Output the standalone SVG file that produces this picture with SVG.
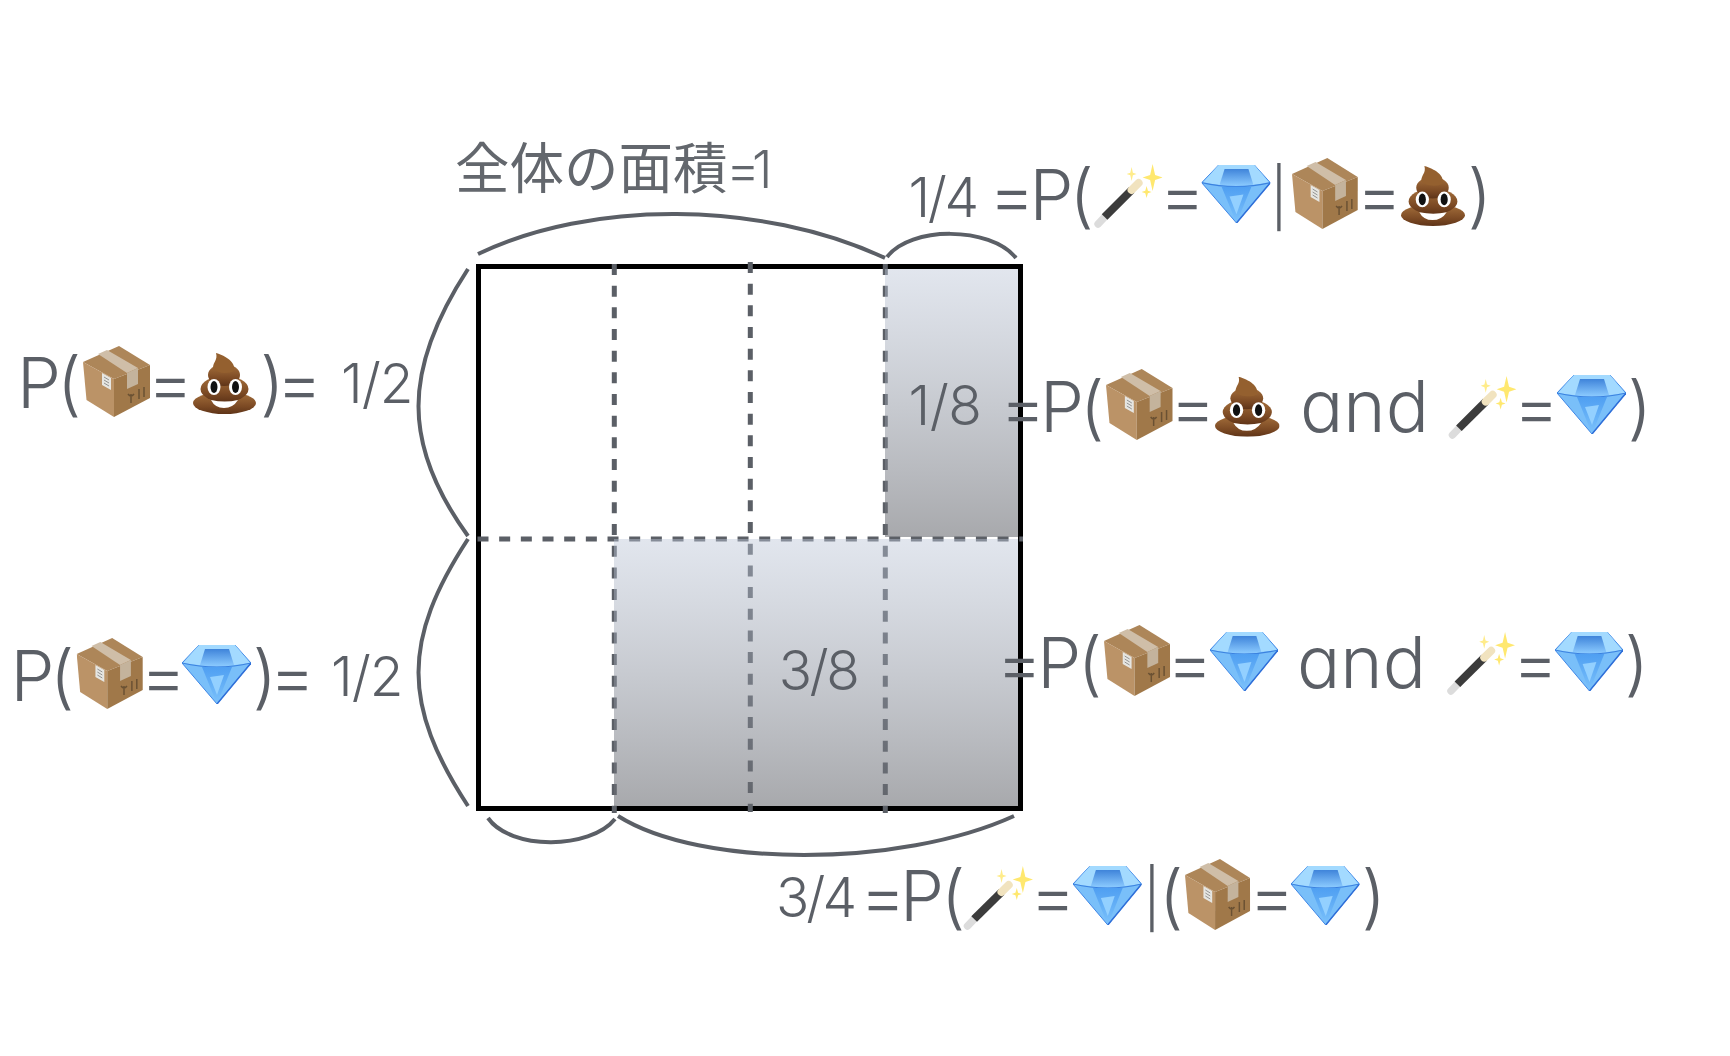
<svg xmlns="http://www.w3.org/2000/svg" width="1730" height="1056" viewBox="0 0 1730 1056">
<style>
text{fill:#5b5f66;font-family:"Inter","Noto Sans",sans-serif;font-weight:300}
.m{font-size:70px}
.f{font-size:55px}
.a{font-size:72px;font-feature-settings:"cv11" 1}
.h{font-size:54.5px;font-weight:400;fill:#63676d;font-family:"Noto Sans CJK JP","Noto Sans",sans-serif}
.e{font-family:"Inter","Noto Sans",sans-serif;font-weight:300;font-size:52px}
.d{stroke:#5b5f66;stroke-width:5;stroke-dasharray:11 10.67;fill:none}
.b{stroke:#5b5f66;stroke-width:4;fill:none}
</style>
<defs>
<linearGradient id="sh" x1="0" y1="0" x2="0" y2="1">
<stop offset="0" stop-color="#bcc6d8" stop-opacity=".44"/>
<stop offset="1" stop-color="#66686e" stop-opacity=".57"/>
</linearGradient>
<linearGradient id="gc" x1="0" y1="0" x2="0" y2="1"><stop offset="0" stop-color="#3f84da"/><stop offset="1" stop-color="#8ccbff"/></linearGradient>
<linearGradient id="gl" x1="0" y1="0" x2="0" y2="1"><stop offset="0" stop-color="#4f9ff2"/><stop offset="1" stop-color="#7cc2fb"/></linearGradient>
<linearGradient id="pp" x1="0" y1="0" x2="0" y2="1"><stop offset="0" stop-color="#a5703c"/><stop offset=".65" stop-color="#7c4a24"/><stop offset="1" stop-color="#5f3418"/></linearGradient>
<symbol id="box" viewBox="0 0 68 71" preserveAspectRatio="none">
<path d="M36 0L67 19L31 33L0 16Z" fill="#ad8659"/>
<path d="M0 16L31 33V71L3.500 54Z" fill="#bb9367"/>
<path d="M31 33L67 19V52L31 71Z" fill="#a07849"/>
<path d="M15 8L24 4L55 22L44 27Z" fill="#cfbea8"/>
<path d="M44 27L55 22V38L44 43Z" fill="#c4b39c"/>
<path d="M19 27L28 32V44L19 39Z" fill="#e6e6e2"/>
<path d="M21 31L26 34M21 34L26 37M21 37L26 40" stroke="#888" stroke-width=".9"/>
<path d="M48 48V57M45 48Q48 52 51 48M56 43V53M61 41V51" stroke="#6a5133" stroke-width="1.500" fill="none"/>
</symbol>
<symbol id="poop" viewBox="0 0 63 61" preserveAspectRatio="none">
<ellipse cx="31.500" cy="50" rx="31.500" ry="11" fill="url(#pp)"/>
<ellipse cx="31.500" cy="36" rx="24" ry="13" fill="url(#pp)"/>
<ellipse cx="31" cy="22" rx="16" ry="11" fill="url(#pp)"/>
<path d="M23 0C33 3 43 9 41 18C36 21 24 21 20 15C20 9 25 7 23 0Z" fill="#94602f"/>
<ellipse cx="21" cy="34" rx="6.500" ry="8" fill="#fff"/><ellipse cx="42.500" cy="34" rx="6.500" ry="8" fill="#fff"/>
<ellipse cx="21" cy="34" rx="3.500" ry="6" fill="#111"/><ellipse cx="42.500" cy="34" rx="3.500" ry="6" fill="#111"/>
<path d="M18 47Q32 50 45 47Q40 55 31 55Q22 55 18 47Z" fill="#fff"/>
</symbol>
<symbol id="gem" viewBox="0 0 69 59" preserveAspectRatio="none">
<path d="M17 0H53L69 18L35 59L0 18Z" fill="#79bff9" stroke="#3f86e6" stroke-width="1"/>
<path d="M17 0H53L68 18Q35 24 1 18Z" fill="#a3daff"/>
<path d="M23 4H47L52 20Q35 23 18 20Z" fill="url(#gc)"/>
<path d="M0 18Q35 26 69 18" fill="none" stroke="#3b82e0" stroke-width="1.200"/>
<path d="M20 22L35 59L50 22Z" fill="url(#gl)"/>
<path d="M28 32L42 30L35 50Z" fill="#93d0ff"/>
<path d="M69 18L35 59" fill="none" stroke="#2f6fd8" stroke-width="1.500"/>
</symbol>
<symbol id="wand" viewBox="0 0 69 65" preserveAspectRatio="none">
<path d="M4.500 60L12 52" stroke="#dcdcdc" stroke-width="7.500" stroke-linecap="round"/>
<path d="M11 53L38 26" stroke="#3c3c3c" stroke-width="8"/>
<path d="M38 26L45 19" stroke="#f1e3bf" stroke-width="8" stroke-linecap="round"/>
<path d="M59 0L61.500 11L69 13.500L61.500 16L59 27L56.500 16L49 13.500L56.500 11Z" fill="#ffe86f"/>
<path d="M38 3L39.300 8.700L43 10L39.300 11.300L38 17L36.700 11.300L33 10L36.700 8.700Z" fill="#ffec8a"/>
<path d="M53 22L54.300 26.700L58 28L54.300 29.300L53 34L51.700 29.300L48 28L51.700 26.700Z" fill="#ffe86f"/>
</symbol>
</defs>
<rect width="1730" height="1056" fill="#fff"/>
<g id="square">
<rect x="478.500" y="266.500" width="542" height="542" fill="#fff" stroke="#000" stroke-width="5"/>
</g>
<g id="connectors">
<path class="d" d="M614.300 264V813M750.300 262V812M885.300 264V813M477.500 539H1023"/>
<path class="b" d="M478 254C590 200 760 200 885 258"/>
<path class="b" d="M887 257C910 226 990 226 1016 258"/>
<path class="b" d="M468 269C402 370 402 445 468 536"/>
<path class="b" d="M468 539C402 640 402 705 468 806"/>
<path class="b" d="M488 818C510 850 590 850 615 819"/>
<path class="b" d="M618 816C700 868 900 868 1014 816"/>
</g>
<g id="shaded">
<rect x="885" y="269" width="133" height="268" fill="url(#sh)"/>
<rect x="614" y="539" width="404" height="267" fill="url(#sh)"/>
</g>
<g id="label-total"><text class="h" x="455 509.500 564 618.500 673 726 752" y="188">全体の面積<tspan class="e">=1</tspan></text></g>
<g id="label-box-poop">
<text class="m" x="17 57 147.500 260 276.500" y="408">P(=)=</text>
<text class="f" x="341" y="403" letter-spacing="-1">1/2</text>
<use href="#box" x="83" y="346" width="68" height="71"/><use href="#poop" x="193" y="353" width="63" height="61"/>
</g>
<g id="label-box-gem">
<text class="m" x="10.500 50 140.500 252.500 269.500" y="701">P(=)=</text>
<text class="f" x="331" y="696" letter-spacing="-1">1/2</text>
<use href="#box" x="76.700" y="638" width="67" height="71"/><use href="#gem" x="182" y="645" width="69" height="59"/>
</g>
<g id="label-quarter">
<text class="f" x="908.600" y="216.700" letter-spacing="-2.500">1/4</text>
<text class="m" x="989 1029.500 1069.600 1159.500" y="220">=P(=</text>
<text class="m" style="font-size:57px" x="1270" y="218">|</text>
<text class="m" x="1356.500 1467.500" y="220">=)</text>
<use href="#wand" x="1093.600" y="164" width="69" height="65"/><use href="#gem" x="1201.700" y="165" width="68.600" height="58"/><use href="#box" x="1292" y="158" width="66.700" height="71"/><use href="#poop" x="1401" y="166" width="64" height="60"/>
</g>
<g id="label-eighth">
<text class="f" x="908.500" y="425" letter-spacing="-.5">1/8</text>
<text class="m" x="1000 1040 1080 1170" y="431.700">=P(=</text>
<text class="a" x="1300" y="431.700">and</text>
<text class="m" x="1513.500 1627.500" y="431.700">=)</text>
<use href="#box" x="1106" y="369" width="67.500" height="71"/><use href="#poop" x="1215" y="376.700" width="64.600" height="60"/><use href="#wand" x="1448" y="376" width="68.500" height="64"/><use href="#gem" x="1557" y="375" width="69" height="59"/>
</g>
<g id="label-three-eighths">
<text class="f" x="778.700" y="690" letter-spacing="-2.500">3/8</text>
<text class="m" x="996.500 1037.300 1077.700 1167" y="687.500">=P(=</text>
<text class="a" x="1297" y="688">and</text>
<text class="m" x="1512.500 1624.500" y="687.500">=)</text>
<use href="#box" x="1104" y="625" width="67" height="71"/><use href="#gem" x="1210" y="632" width="68" height="59"/><use href="#wand" x="1446.500" y="632" width="68.500" height="64"/><use href="#gem" x="1555" y="632" width="68" height="59"/>
</g>
<g id="label-three-quarters">
<text class="f" x="776" y="917" letter-spacing="-3">3/4</text>
<text class="m" x="860 900 941 1030" y="921">=P(=</text>
<text class="m" style="font-size:57px" x="1143" y="919">|</text>
<text class="m" x="1159 1249 1361.500" y="921">(=)</text>
<use href="#wand" x="963" y="866" width="70" height="65"/><use href="#gem" x="1073" y="866" width="68.600" height="59"/><use href="#box" x="1185" y="859" width="66" height="71"/><use href="#gem" x="1291" y="866" width="68.500" height="59"/>
</g>
</svg>
